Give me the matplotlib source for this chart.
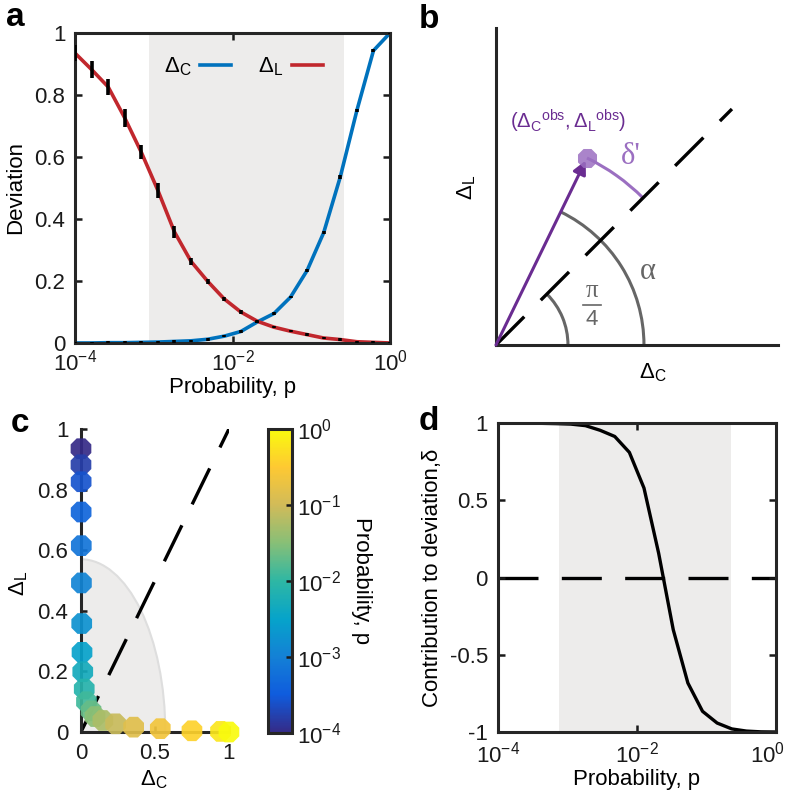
import numpy as np
import matplotlib
matplotlib.use('Agg')
import matplotlib.pyplot as plt
import matplotlib.transforms as mtransforms
from matplotlib.colors import LinearSegmentedColormap, LogNorm
from matplotlib.patches import Wedge, Arc
from matplotlib.ticker import NullLocator

plt.rcParams['font.family'] = ['Liberation Sans', 'DejaVu Sans']
plt.rcParams['mathtext.fontset'] = 'custom'
plt.rcParams['mathtext.rm'] = 'Liberation Sans'
plt.rcParams['mathtext.it'] = 'Liberation Sans:italic'
plt.rcParams['mathtext.bf'] = 'Liberation Sans:bold'
plt.rcParams['mathtext.default'] = 'regular'

# probability values (20 points, log spaced)
p = [1.000e-4, 1.624e-4, 2.637e-4, 4.281e-4, 6.952e-4, 1.129e-3, 1.833e-3,
     2.976e-3, 4.833e-3, 7.848e-3, 1.274e-2, 2.069e-2, 3.360e-2, 5.456e-2,
     8.859e-2, 1.438e-1, 2.336e-1, 3.793e-1, 6.158e-1, 1.000]
# deviations
dC = [0.000, 0.000, 0.001, 0.001, 0.002, 0.003, 0.005, 0.007, 0.012, 0.022,
      0.037, 0.068, 0.095, 0.148, 0.234, 0.356, 0.536, 0.750, 0.943, 1.000]
dL = [0.935, 0.882, 0.826, 0.726, 0.615, 0.492, 0.358, 0.263, 0.199, 0.142,
      0.100, 0.070, 0.051, 0.038, 0.027, 0.016, 0.011, 0.004, 0.002, 0.000]
errC = [0.004, 0.004, 0.004, 0.004, 0.004, 0.004, 0.004, 0.004, 0.004, 0.004,
        0.004, 0.004, 0.004, 0.004, 0.005, 0.006, 0.006, 0.006, 0.006, 0.004]
errL = [0.025, 0.026, 0.025, 0.028, 0.023, 0.025, 0.018, 0.012, 0.008, 0.006,
        0.005, 0.004, 0.004, 0.004, 0.004, 0.004, 0.004, 0.004, 0.004, 0.004]
# contribution to deviation, panel d
delta = [1.000, 1.000, 0.999, 0.998, 0.996, 0.993, 0.983, 0.953, 0.913, 0.810,
         0.579, 0.158, -0.338, -0.683, -0.866, -0.942, -0.980, -0.994, -0.999, -1.000]
# shaded probability range
shade_a = (8.7e-4, 0.26)
shade_d = (7.6e-4, 0.224)
shade_radius = 0.57
# schematic for panel b
obs_point = (0.91, 1.87)
alpha_radius = 1.48
quarter_radius = 0.72

blue = '#0072BD'
red = '#C1272D'
purple = '#6A2C91'
light_purple = '#9B6FC1'
gray = '#666666'
shade = '#EDECEB'
spine_c = '#262626'

parula = LinearSegmentedColormap.from_list('parula', [
    (0.2081, 0.1663, 0.5292), (0.0592, 0.3599, 0.8683), (0.0779, 0.5040, 0.8384),
    (0.0232, 0.6407, 0.7925), (0.1802, 0.7178, 0.6425), (0.5301, 0.7492, 0.4662),
    (0.8185, 0.7327, 0.3498), (0.9956, 0.7862, 0.1981), (0.9763, 0.9831, 0.0538)])

dash = (0, (12, 7))
logticks = [1e-4, 1e-2, 1]
loglabels = [r'$10^{-4}$', r'$10^{-2}$', r'$10^{0}$']


def style_box(ax, xpad):
    for s in ax.spines.values():
        s.set_linewidth(2.2)
        s.set_color(spine_c)
    ax.tick_params(direction='in', top=True, right=True, length=5, width=1.8,
                   labelsize=16, colors='#1a1a1a')
    ax.tick_params(axis='y', pad=7)
    ax.tick_params(axis='x', pad=xpad)


def put_labels(ax, xl, yl, xpos, ypos):
    ax.set_xlabel(xl, fontsize=16)
    ax.set_ylabel(yl, fontsize=16)
    ax.xaxis.set_label_coords(*xpos)
    ax.yaxis.set_label_coords(*ypos)
    ax.xaxis.label.set_va('center')
    ax.yaxis.label.set_va('center')


fig = plt.figure(figsize=(7.87, 7.98), dpi=100)

# ---- panel a
axa = fig.add_axes([0.0953, 0.5702, 0.4003, 0.3885])
axa.axvspan(*shade_a, color=shade, lw=0, zorder=0)
axa.plot(p, dC, color=blue, lw=2.6, label=r'$\Delta_C$', zorder=2)
axa.plot(p, dL, color=red, lw=2.6, label=r'$\Delta_L$', zorder=2)
axa.errorbar(p, dC, yerr=errC, fmt='none', ecolor='k', elinewidth=2.6, capsize=0, zorder=3)
axa.errorbar(p, dL, yerr=errL, fmt='none', ecolor='k', elinewidth=2.6, capsize=0, zorder=3)
axa.set_xscale('log')
axa.set_xlim(1e-4, 1)
axa.set_ylim(0, 1)
axa.set_xticks(logticks, loglabels)
axa.xaxis.set_minor_locator(NullLocator())
axa.set_yticks([0, 0.2, 0.4, 0.6, 0.8, 1], ['0', '0.2', '0.4', '0.6', '0.8', '1'])
style_box(axa, 5)
put_labels(axa, 'Probability, p', 'Deviation', (0.5, -0.142), (-0.19, 0.5))
axa.legend(ncol=2, frameon=False, markerfirst=False, loc='center',
           bbox_to_anchor=(0.535, 0.89), fontsize=16, handlelength=1.4,
           columnspacing=1.2, handletextpad=0.4)

# ---- panel b
axb = fig.add_axes([0.6302, 0.5677, 0.3583, 0.3972])
axb.set_xlim(0, 2.82)
axb.set_ylim(0, 3.17)
for s in ['top', 'right']:
    axb.spines[s].set_visible(False)
for s in ['left', 'bottom']:
    axb.spines[s].set_linewidth(2.2)
    axb.spines[s].set_color(spine_c)
axb.set_xticks([])
axb.set_yticks([])
axb.plot([0, 2.36], [0, 2.36], color='k', lw=2.4, ls=dash)
ang = np.degrees(np.arctan2(obs_point[1], obs_point[0]))
r_obs = np.hypot(*obs_point)
axb.add_patch(Arc((0, 0), 2 * quarter_radius, 2 * quarter_radius, theta1=0, theta2=45,
                  color=gray, lw=2.2))
axb.add_patch(Arc((0, 0), 2 * alpha_radius, 2 * alpha_radius, theta1=0, theta2=ang,
                  color=gray, lw=2.2))
axb.add_patch(Arc((0, 0), 2 * r_obs, 2 * r_obs, theta1=45, theta2=ang,
                  color=light_purple, lw=2.2))
axb.annotate('', xy=obs_point, xytext=(0, 0),
             arrowprops=dict(arrowstyle='-|>', color=purple, lw=2.2,
                             mutation_scale=20, shrinkA=0, shrinkB=2))
axb.scatter([obs_point[0]], [obs_point[1]], s=220, marker='8', color=light_purple,
            alpha=0.85, lw=0, zorder=4)
axb.text(1.52, 0.73, 'α', color=gray, fontsize=22, family='Liberation Serif',
         ha='center', va='center')
axb.text(0.96, 0.54, 'π', color=gray, fontsize=18, family='Liberation Serif',
         ha='center', va='center')
axb.plot([0.87, 1.05], [0.40, 0.40], color=gray, lw=1.2)
axb.text(0.96, 0.25, '4', color=gray, fontsize=16, ha='center', va='center')
axb.text(1.35, 1.88, "δ'", color=light_purple, fontsize=22, family='Liberation Serif',
         ha='center', va='center')
axb.text(0.72, 2.24, r'$(\Delta_{C}{}^{obs}, \Delta_{L}{}^{obs})$', color=purple,
         fontsize=14.5, ha='center', va='center')
axb.text(-0.29, 1.58, r'$\Delta_L$', fontsize=16, rotation=90, ha='center', va='center')
axb.text(1.57, -0.28, r'$\Delta_C$', fontsize=16, ha='center', va='center')

# ---- panel c
axc = fig.add_axes([0.1029, 0.0827, 0.188, 0.3797])
norm = LogNorm(1e-4, 1)
axc.add_patch(Wedge((0, 0), shade_radius, 0, 90, facecolor=shade, edgecolor='#DEDEDE',
                    lw=1.5, zorder=0))
axc.plot([0, 1], [0, 1], color='k', lw=2.4, ls=dash, zorder=1)
sc = axc.scatter(dC, dL, c=p, cmap=parula, norm=norm, s=260, marker='8', lw=0,
                 alpha=0.92, zorder=3, clip_on=False)
axc.set_xlim(0, 1)
axc.set_ylim(0, 1)
for s in ['top', 'right']:
    axc.spines[s].set_visible(False)
for s in ['left', 'bottom']:
    axc.spines[s].set_linewidth(2.2)
    axc.spines[s].set_color(spine_c)
    axc.spines[s].set_zorder(2)
axc.tick_params(direction='in', length=4, width=1.8, labelsize=16, colors='#1a1a1a')
axc.tick_params(axis='y', pad=9)
axc.tick_params(axis='x', pad=8)
axc.set_xticks([0, 0.5, 1], ['0', '0.5', '1'])
axc.set_yticks([0, 0.2, 0.4, 0.6, 0.8, 1], ['0', '0.2', '0.4', '0.6', '0.8', '1'])
put_labels(axc, r'$\Delta_C$', r'$\Delta_L$', (0.49, -0.158), (-0.42, 0.49))

cax = fig.add_axes([0.3405, 0.0815, 0.0305, 0.381])
cb = fig.colorbar(sc, cax=cax)
cb.solids.set_alpha(1)
cb.set_ticks([1e-4, 1e-3, 1e-2, 1e-1, 1],
             labels=[r'$10^{-4}$', r'$10^{-3}$', r'$10^{-2}$', r'$10^{-1}$', r'$10^{0}$'])
cb.minorticks_off()
cb.outline.set_linewidth(2.2)
cb.outline.set_edgecolor(spine_c)
cb.ax.tick_params(direction='in', length=4, width=1.8, labelsize=16, colors='#1a1a1a')
cb.set_label('Probability, p', rotation=270, fontsize=16, labelpad=22)

# ---- panel d
axd = fig.add_axes([0.6324, 0.0827, 0.3532, 0.3872])
axd.axvspan(*shade_d, color=shade, lw=0, zorder=0)
axd.axhline(0, color='k', lw=2.4, ls=dash, zorder=1)
axd.plot(p, delta, color='k', lw=2.4, zorder=2)
axd.set_xscale('log')
axd.set_xlim(1e-4, 1)
axd.set_ylim(-1, 1)
axd.set_xticks(logticks, loglabels)
axd.xaxis.set_minor_locator(NullLocator())
axd.set_yticks([-1, -0.5, 0, 0.5, 1], ['-1', '-0.5', '0', '0.5', '1'])
style_box(axd, 7)
put_labels(axd, 'Probability, p', 'Contribution to deviation,δ', (0.5, -0.155), (-0.233, 0.5))
last = axd.get_xticklabels()[-1]
last.set_transform(last.get_transform() +
                   mtransforms.ScaledTranslation(-8 / 100, 0, fig.dpi_scale_trans))

# panel letters
for lab, x, y in [('a', 15, 17), ('b', 429, 20), ('c', 20, 423), ('d', 429, 421)]:
    fig.text(x / 787, 1 - y / 798, lab, fontsize=24, fontweight='bold',
             ha='center', va='center')

fig.savefig('out.png', dpi=100)
